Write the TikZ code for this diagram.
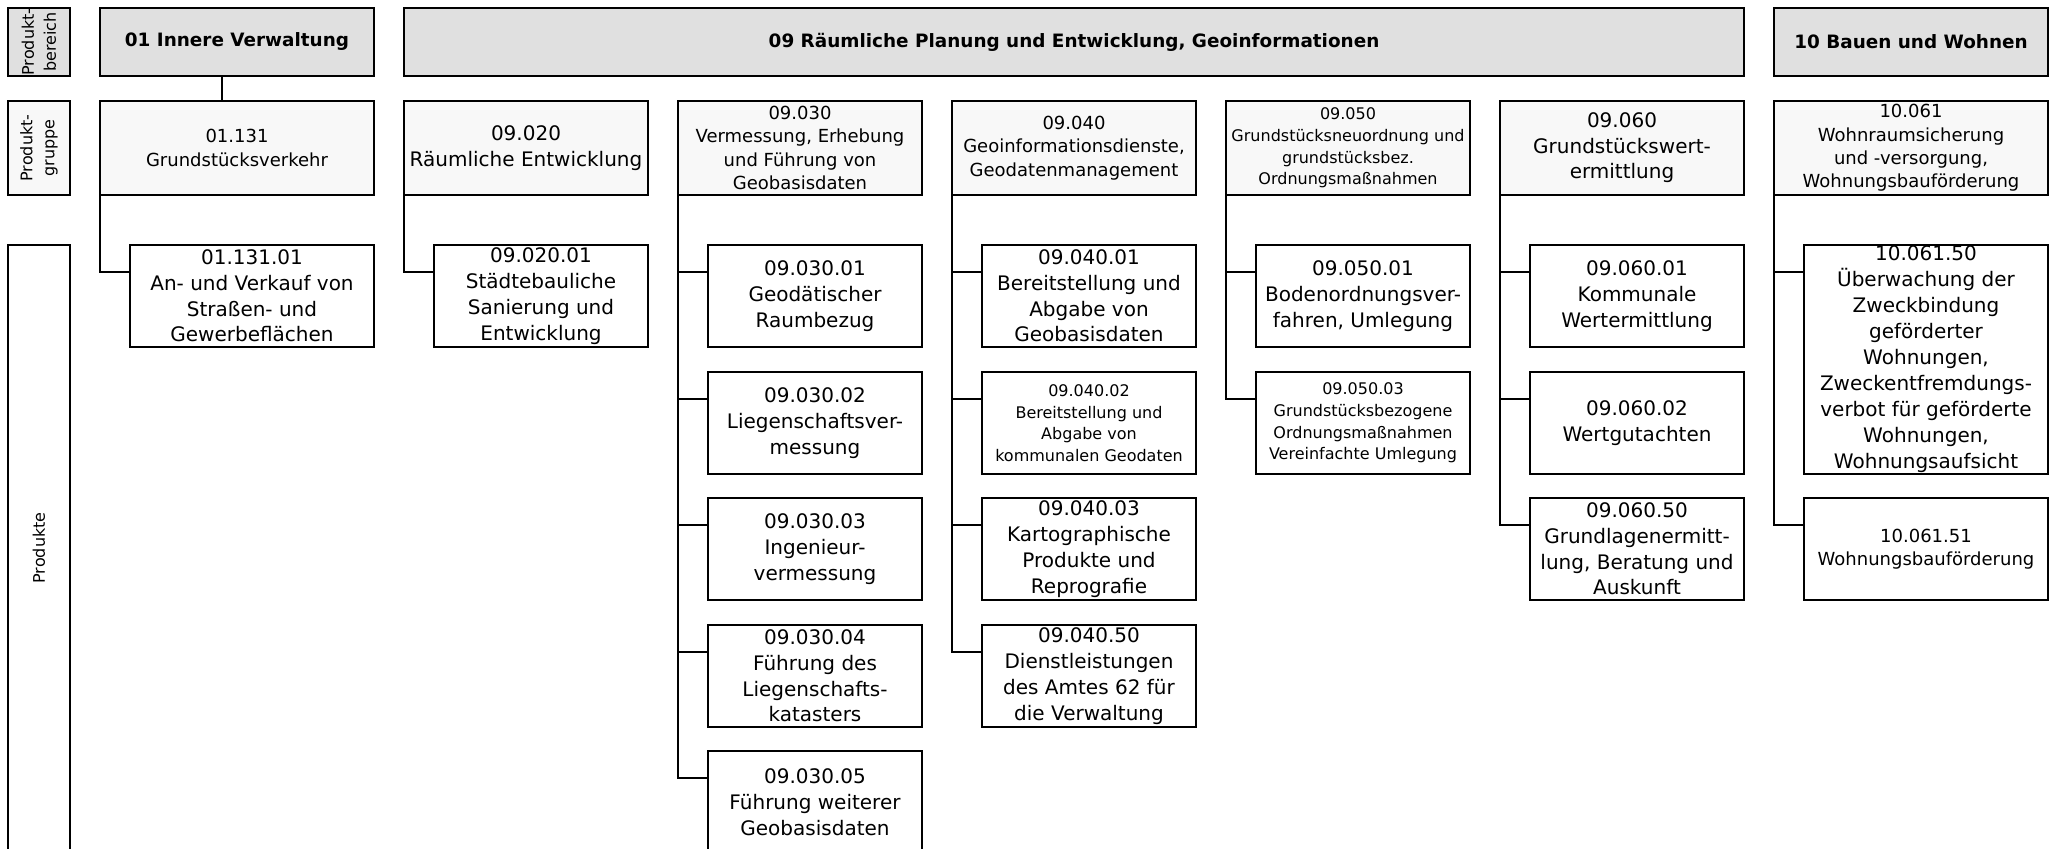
\documentclass[tikz,border=0pt]{standalone}
\usepackage{fontspec}
\setmainfont{DejaVu Sans}
\usepackage{tikz}
\definecolor{bereichgrau}{RGB}{224,224,224}
\definecolor{gruppengrau}{RGB}{248,248,248}
\tikzstyle{bereich}=[draw, line width=1pt, fill=bereichgrau, anchor=north west
,inner sep=0pt, outer sep=0pt
,minimum height=34pt
,font=\fontsize{9.2}{11}\selectfont\bfseries
]
\tikzstyle{gruppe}=[draw, line width=1pt, fill=gruppengrau, anchor=north west
,inner sep=0pt, outer sep=0pt
,minimum width=122pt, minimum height=47pt, align=center
,font=\fontsize{9}{11.7}\selectfont
]
\tikzstyle{produkt}=[draw, line width=1pt, fill=white, anchor=north west
,inner sep=0pt, outer sep=0pt
,minimum width=107pt, minimum height=51pt, align=center
,font=\fontsize{10}{12.9}\selectfont
]
\tikzstyle{ebene}=[draw, line width=1pt, rotate=90
,inner sep=0pt, outer sep=0pt
,minimum height=31pt, align=center
,font=\fontsize{8}{11}\selectfont
]
\tikzstyle{std}=[]
\tikzstyle{gross}=[font=\fontsize{10}{12.7}\selectfont]
\tikzstyle{klein}=[font=\fontsize{8}{10.8}\selectfont]
\tikzstyle{gbreit}=[minimum width=137pt]
\tikzstyle{breit}=[minimum width=122pt]
\tikzstyle{breitmittel}=[minimum width=122pt, font=\fontsize{9}{11.7}\selectfont]
\tikzstyle{hochbreit}=[minimum width=122pt, minimum height=114.5pt, font=\fontsize{10}{13}\selectfont]
\tikzstyle{edge} = [draw, line width=1pt, -]

\begin{document}
\begin{tikzpicture}[x=0.5pt, y=-0.5pt]
    \useasboundingbox (0,0) rectangle (2051,849);
    % Ebenen am linken Rand
    \node[ebene, fill=bereichgrau, minimum width=34pt] (lbereich) at (39,42) {Produkt-\\bereich};
    \node[ebene, fill=gruppengrau, minimum width=47pt] (lgruppe) at (39,148) {Produkt-\\gruppe};
    \node[ebene, fill=white, minimum width=303pt] (lprodukte) at (39,548) {Produkte};

    % Produktbereiche
    \foreach \x/\w/\name/\txt in {100/137pt/b01/01 Innere Verwaltung, 404/670pt/b09/{09 Räumliche Planung und Entwicklung, Geoinformationen}, 1774/137pt/b10/10 Bauen und Wohnen}
        \node[bereich, minimum width=\w] (\name) at (\x,8) {\txt};

    % Produktgruppen
    \foreach \x/\name/\fs/\txt in {100/g01/gbreit/{01.131\\Grundstücksverkehr}, 404/g20/gross/{09.020\\Räumliche Entwicklung}, 678/g30/std/{09.030\\Vermessung, Erhebung\\und Führung von\\Geobasisdaten}, 952/g40/std/{09.040\\Geoinformationsdienste,\\Geodatenmanagement}, 1226/g50/klein/{09.050\\Grundstücksneuordnung und\\grundstücksbez.\\Ordnungsmaßnahmen}, 1500/g60/gross/{09.060\\Grundstückswert-\\ermittlung}, 1774/g10/gbreit/{10.061\\Wohnraumsicherung\\und -versorgung,\\Wohnungsbauförderung}}
        \node[gruppe, \fs] (\name) at (\x,101) {\txt};

    % Produkte
    \foreach \x/\y/\name/\fs/\txt in {130/245/p01a/breit/{01.131.01\\An- und Verkauf von\\Straßen- und\\Gewerbeflächen}, 434/245/p20a/std/{09.020.01\\Städtebauliche\\Sanierung und\\Entwicklung}, 708/245/p30a/std/{09.030.01\\Geodätischer\\Raumbezug}, 708/372/p30b/std/{09.030.02\\Liegenschaftsver-\\messung}, 708/498/p30c/std/{09.030.03\\Ingenieur-\\vermessung}, 708/625/p30d/std/{09.030.04\\Führung des\\Liegenschafts-\\katasters}, 708/751/p30e/std/{09.030.05\\Führung weiterer\\Geobasisdaten}, 982/245/p40a/std/{09.040.01\\Bereitstellung und\\Abgabe von\\Geobasisdaten}, 982/372/p40b/klein/{09.040.02\\Bereitstellung und\\Abgabe von\\kommunalen Geodaten}, 982/498/p40c/std/{09.040.03\\Kartographische\\Produkte und\\Reprografie}, 982/625/p40d/std/{09.040.50\\Dienstleistungen\\des Amtes 62 für\\die Verwaltung}, 1256/245/p50a/std/{09.050.01\\Bodenordnungsver-\\fahren, Umlegung}, 1256/372/p50b/klein/{09.050.03\\Grundstücksbezogene\\Ordnungsmaßnahmen\\Vereinfachte Umlegung}, 1530/245/p60a/std/{09.060.01\\Kommunale\\Wertermittlung}, 1530/372/p60b/std/{09.060.02\\Wertgutachten}, 1530/498/p60c/std/{09.060.50\\Grundlagenermitt-\\lung, Beratung und\\Auskunft}, 1804/245/p10a/hochbreit/{10.061.50\\Überwachung der\\Zweckbindung\\geförderter\\Wohnungen,\\Zweckentfremdungs-\\verbot für geförderte\\Wohnungen,\\Wohnungsaufsicht}, 1804/498/p10b/breitmittel/{10.061.51\\Wohnungsbauförderung}}
        \node[produkt, \fs] (\name) at (\x,\y) {\txt};

    % Verbindungen
    \path[edge] ([xshift=-7.5pt]b01.south) -- ([xshift=-7.5pt]g01.north);
    \foreach \source/\dest in {g01/p01a, g20/p20a, g30/p30a, g30/p30b, g30/p30c, g30/p30d, g30/p30e, g40/p40a, g40/p40b, g40/p40c, g40/p40d, g50/p50a, g50/p50b, g60/p60a, g60/p60b, g60/p60c, g10/p10a, g10/p10b}
        \path[edge] (\source.south west) |- ([yshift=-13.5pt]\dest.north west);
\end{tikzpicture}
\end{document}
